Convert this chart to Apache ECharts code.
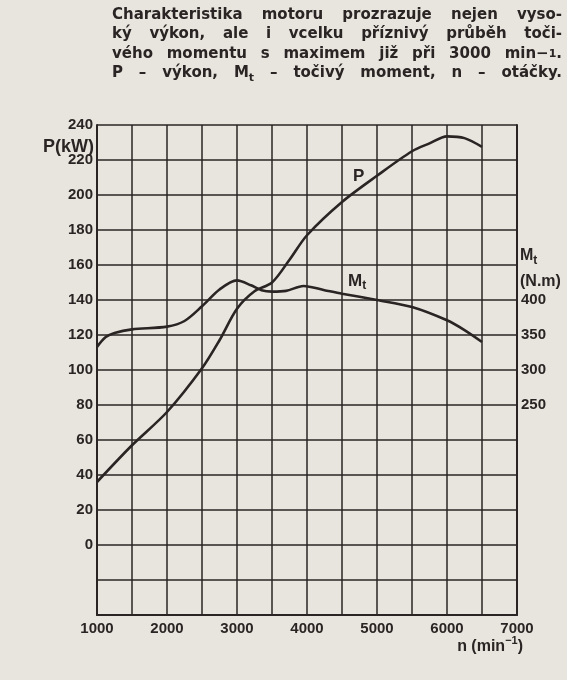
<!DOCTYPE html>
<html>
<head>
<meta charset="utf-8">
<script src="https://cdn.jsdelivr.net/npm/echarts@6/dist/echarts.min.js"></script>
<style>
  html, body { margin: 0; padding: 0; background: #e8e5de; }
  #chart { width: 567px; height: 680px; }
</style>
</head>
<body>
<div id="chart"></div>
<script>
// ---------- data ----------
const rpmP = [1000,1500,2000,2500,2750,3000,3250,3500,3750,4000,4500,5000,5500,5750,6000,6250,6500];
const powerKW = [36,57,76,101,117,135,145,150,163,177,196,211,225,229.5,233.5,232.5,227.5];

const rpmM = [1000,1125,1250,1500,2000,2250,2500,2750,3000,3200,3350,3500,3700,3950,4250,4500,5000,5500,6000,6250,6500];
const torqueNm = [333,347,353,358,362,370,391,415,428,421,414,412,413,420,414,409,400,390,371,357,340];

const rpmTickLabels = [1000,2000,3000,4000,5000,6000,7000];
const powerTickLabels = [0,20,40,60,80,100,120,140,160,180,200,220,240];
const torqueTickLabels = [250,300,350,400];

const titleLines = [
  "Charakteristika motoru prozrazuje nejen vyso-",
  "ký výkon, ale i vcelku příznivý průběh toči-",
  "vého momentu s maximem již při 3000 min−^1.",
  "P – výkon, M_t – točivý moment, n – otáčky."
];

// ---------- style ----------
const ink = '#2a2524';
const paper = '#e8e5de';
const FF = '"Liberation Sans", Arial, sans-serif';
const TF = '"DejaVu Sans", sans-serif';

const chart = echarts.init(document.getElementById('chart'), null, {renderer: 'canvas'});

// text measuring helper
const mctx = document.createElement('canvas').getContext('2d');
function measure(t, size, fam) {
  mctx.font = 'bold ' + size + 'px ' + fam;
  return mctx.measureText(t).width;
}
// parse "_x" => subscript char, "^x" => small raised char
function segs(word, size, fam) {
  const out = [];
  let buf = '';
  for (let i = 0; i < word.length; i++) {
    const c = word[i];
    if ((c === '_' || c === '^') && i + 1 < word.length) {
      if (buf) { out.push({t: buf, size: size, dy: 0}); buf = ''; }
      const small = Math.round(size * 0.72);
      out.push({t: word[i + 1], size: small, dy: c === '_' ? size * 0.28 : -size * 0.02});
      i++;
    } else buf += c;
  }
  if (buf) out.push({t: buf, size: size, dy: 0});
  out.forEach(s => { s.fam = fam; s.w = measure(s.t, s.size, fam); });
  return out;
}
function segWidth(sg) { return sg.reduce((a, s) => a + s.w, 0); }
function segElems(sg, x, y) {
  const els = [];
  let cx = x;
  sg.forEach(s => {
    els.push({
      type: 'text', x: cx, y: y + s.dy, silent: true,
      style: {text: s.t, fill: ink, font: 'bold ' + s.size + 'px ' + s.fam,
              textAlign: 'left', textVerticalAlign: 'middle'}
    });
    cx += s.w;
  });
  return els;
}
function label(word, size, x, y, align) {
  const sg = segs(word, size, FF);
  const w = segWidth(sg);
  let sx = x;
  if (align === 'right') sx = x - w;
  else if (align === 'center') sx = x - w / 2;
  return segElems(sg, sx, y);
}

const graphics = [];
// justified title
const tLeft = 112, tRight = 562, tSize = 15;
const tYs = [15, 34.5, 54, 73.5];
titleLines.forEach((line, li) => {
  const words = line.split(' ').map(w => segs(w, tSize, TF));
  const total = words.reduce((a, sg) => a + segWidth(sg), 0);
  const gap = (tRight - tLeft - total) / (words.length - 1);
  let x = tLeft;
  words.forEach(sg => {
    graphics.push(...segElems(sg, x, tYs[li]));
    x += segWidth(sg) + gap;
  });
});

// axis names and curve labels
graphics.push(...label('P(kW)', 18, 43, 147, 'left'));
graphics.push(...label('M_t', 16, 520, 256, 'left'));
graphics.push(...label('(N.m)', 16, 520, 282, 'left'));
graphics.push(...label('P', 17, 353, 176, 'left'));
graphics.push(...label('M_t', 17, 348, 281, 'left'));
// n (min^-1)
(function () {
  const main = 'n (min', sup = '−1', close = ')';
  const s1 = 16, s2 = 11;
  const w1 = measure(main, s1, FF), w2 = measure(sup, s2, FF), w3 = measure(close, s1, FF);
  const right = 523, y = 647;
  let x = right - (w1 + w2 + w3);
  graphics.push({type:'text', x:x, y:y, silent:true, style:{text:main, fill:ink, font:'bold '+s1+'px '+FF, textVerticalAlign:'middle'}});
  x += w1;
  graphics.push({type:'text', x:x, y:y-6, silent:true, style:{text:sup, fill:ink, font:'bold '+s2+'px '+FF, textVerticalAlign:'middle'}});
  x += w2;
  graphics.push({type:'text', x:x, y:y, silent:true, style:{text:close, fill:ink, font:'bold '+s1+'px '+FF, textVerticalAlign:'middle'}});
})();

const axisLabelStyle = {color: ink, fontFamily: FF, fontWeight: 'bold', fontSize: 15};

const option = {
  backgroundColor: paper,
  animation: false,
  grid: {left: 97, right: 50, top: 125, bottom: 65, containLabel: false},
  xAxis: {
    type: 'value', min: 1000, max: 7000, interval: 500,
    axisLine: {show: true, onZero: false, lineStyle: {color: ink, width: 2}},
    axisTick: {show: false},
    splitLine: {show: true, lineStyle: {color: ink, width: 1.5}},
    axisLabel: Object.assign({}, axisLabelStyle, {
      margin: 6, showMinLabel: true, showMaxLabel: true,
      formatter: v => rpmTickLabels.includes(v) ? String(v) : ''
    })
  },
  yAxis: [
    {
      type: 'value', min: -40, max: 240, interval: 20, position: 'left',
      axisLine: {show: true, onZero: false, lineStyle: {color: ink, width: 2}},
      axisTick: {show: false},
      splitLine: {show: true, lineStyle: {color: ink, width: 1.5}},
      axisLabel: Object.assign({}, axisLabelStyle, {
        margin: 4, showMinLabel: true, showMaxLabel: true,
        formatter: v => powerTickLabels.includes(v) ? String(v) : ''
      })
    },
    {
      type: 'value', min: -50, max: 650, interval: 25, position: 'right',
      axisLine: {show: true, onZero: false, lineStyle: {color: ink, width: 2}},
      axisTick: {show: false},
      splitLine: {show: false},
      axisLabel: Object.assign({}, axisLabelStyle, {
        margin: 4,
        formatter: v => torqueTickLabels.includes(v) ? String(v) : ''
      })
    }
  ],
  series: [
    {
      name: 'P', type: 'line', yAxisIndex: 0, smooth: 0.3, showSymbol: false,
      lineStyle: {color: ink, width: 2.6}, z: 5,
      data: rpmP.map((n, i) => [n, powerKW[i]])
    },
    {
      name: 'Mt', type: 'line', yAxisIndex: 1, smooth: 0.3, showSymbol: false,
      lineStyle: {color: ink, width: 2.6}, z: 5,
      data: rpmM.map((n, i) => [n, torqueNm[i]])
    }
  ],
  graphic: graphics
};
chart.setOption(option);
</script>
</body>
</html>
